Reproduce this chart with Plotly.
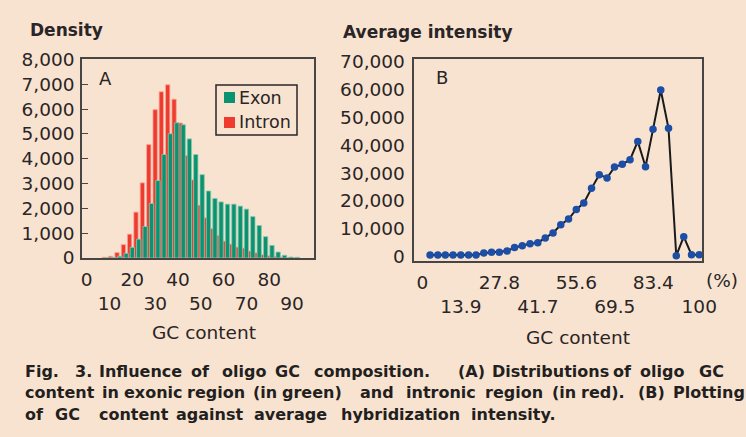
import plotly.graph_objects as go

# ---------------- data ----------------
# Panel A: GC-content bins (%) and oligo density counts
gc_bins = [8.3, 11.1, 13.9, 16.7, 19.4, 22.2, 25.0, 27.8, 30.6, 33.3, 36.1, 38.9, 41.7,
           44.4, 47.2, 50.0, 52.8, 55.6, 58.3, 61.1, 63.9, 66.7, 69.4, 72.2, 75.0, 77.8,
           80.6, 83.3, 86.1, 88.9, 91.7]
intron_density = [30, 70, 220, 540, 960, 1850, 3030, 4570, 5980, 6700, 6980, 6400, 5440,
                  4130, 3150, 2130, 1620, 1180, 910, 680, 560, 440, 400, 280, 210, 130,
                  90, 70, 40, 20, 10]
exon_density = [10, 20, 70, 190, 430, 760, 1270, 2200, 3120, 4170, 5010, 5450, 5370,
                4800, 4170, 3360, 2700, 2400, 2260, 2170, 2170, 2090, 1970, 1670, 1310,
                860, 510, 240, 110, 40, 30]

# Panel B: GC content (%) vs average hybridization intensity
gc_points = [2.8, 5.6, 8.3, 11.1, 13.9, 16.7, 19.4, 22.2, 25.0, 27.8, 30.6, 33.3, 36.1,
             38.9, 41.7, 44.4, 47.2, 50.0, 52.8, 55.6, 58.3, 61.1, 63.9, 66.7, 69.4, 72.2,
             75.0, 77.8, 80.6, 83.3, 86.1, 88.9, 91.7, 94.4, 97.2, 100.0]
avg_intensity = [650, 650, 650, 650, 650, 650, 650, 1330, 1570, 1570, 2050, 3300, 3950,
                 4670, 5030, 6700, 8550, 11450, 13520, 16990, 19270, 24530, 29440, 28240,
                 32190, 33150, 34820, 41400, 32310, 45710, 59830, 46070, 360, 7180, 720, 720]

a_ticks = [0, 10, 20, 30, 40, 50, 60, 70, 80, 90, 100]
b_ticks = [0, 13.9, 27.8, 41.7, 55.6, 69.5, 83.4, 100]
b_ticktext = ["0", "13.9", "27.8", "41.7", "55.6", "69.5", "83.4", "100"]
a_yticks = [0, 1000, 2000, 3000, 4000, 5000, 6000, 7000, 8000]
b_yticks = [0, 10000, 20000, 30000, 40000, 50000, 60000, 70000]

caption_line1 = ["Fig.", "3.", "Influence", "of", "oligo", "GC", "composition.", "(A)",
                 "Distributions", "of", "oligo", "GC"]
caption_line2 = ["content", "in", "exonic", "region", "(in", "green)", "and", "intronic",
                 "region", "(in", "red).", "(B)", "Plotting"]
caption_line3 = ["of", "GC", "content", "against", "average", "hybridization", "intensity."]

# ---------------- styling / layout ----------------
BG = "#F8E3D0"
RED = "#EE3B2E"
GREEN = "#0B9371"
BLUE = "#1D4EA6"
FRAME = "#4A4545"
TXT = "#2A2526"
CAPTXT = "#231F20"
FONT = "DejaVu Sans"
TICKSZ = 18.5
CAPSZ = 16
W, H = 746, 437

# word start positions (px) reproducing the justified caption
line1_x = [22.7, 72.7, 96.7, 189, 220, 272.7, 311.7, 455.7, 489.5, 611, 638, 697]
line2_x = [22.7, 100, 121.5, 185, 250.7, 280, 358.3, 403.7, 483, 549.7, 579, 635.7, 670.7]
line3_x = [22.7, 53.3, 96.7, 174, 251.7, 338.5, 468.5]
line_y = [371, 392.5, 414.5]


def two_rows(labels):
    return [t if i % 2 == 0 else "<br>" + t for i, t in enumerate(labels)]


fig = go.Figure()

fig.add_trace(go.Bar(x=gc_bins, y=intron_density, name="Intron", width=1.9, offset=-1.55,
                     marker=dict(color=RED, line=dict(color="#F7A89C", width=0.8)),
                     xaxis="x", yaxis="y", showlegend=False))
fig.add_trace(go.Bar(x=gc_bins, y=exon_density, name="Exon", width=1.9, offset=-0.35,
                     marker=dict(color=GREEN, line=dict(color="#8CC9B0", width=0.8)),
                     xaxis="x", yaxis="y", showlegend=False))
fig.add_trace(go.Scatter(x=gc_points, y=avg_intensity, mode="lines+markers",
                         line=dict(color="#1A1A1A", width=2),
                         marker=dict(color=BLUE, size=7.5),
                         xaxis="x2", yaxis="y2", showlegend=False,
                         name="Average intensity"))

axis_common = dict(showline=True, linecolor=FRAME, linewidth=1.5, mirror=True,
                   showgrid=False, zeroline=False, automargin=False, tickangle=0,
                   tickfont=dict(family=FONT, size=TICKSZ, color=TXT))

fig.update_layout(
    template="none",
    width=W, height=H, margin=dict(l=0, r=0, t=0, b=0, pad=0),
    paper_bgcolor=BG, plot_bgcolor=BG, barmode="overlay",
    font=dict(family=FONT, color=TXT),
    xaxis=dict(domain=[82 / W, 314 / W], range=[-2.05, 99.6], anchor="y",
               tickvals=a_ticks, ticktext=two_rows([str(v) for v in a_ticks]),
               ticks="", ticklabelstandoff=4, **axis_common),
    yaxis=dict(domain=[1 - 258 / H, 1 - 59 / H], range=[0, 8020], anchor="x",
               tickvals=a_yticks, tickformat=",", ticks="inside", ticklen=6,
               tickcolor=FRAME, ticklabelstandoff=2, **axis_common),
    xaxis2=dict(domain=[414.3 / W, 702.3 / W], range=[-2.9, 101.1], anchor="y2",
                tickvals=b_ticks, ticktext=two_rows(b_ticktext), ticks="",
                ticklabelstandoff=4, **axis_common),
    yaxis2=dict(domain=[1 - 261 / H, 1 - 59 / H], range=[-1540, 70970], anchor="x2",
                tickvals=b_yticks, tickformat=",", ticks="", ticklabelstandoff=4,
                **axis_common),
)

ann = []
def label(text, x, y, size=TICKSZ, bold=False, xanchor="center", family=FONT, color=TXT):
    ann.append(dict(text=("<b>%s</b>" % text) if bold else text, x=x / W, y=1 - y / H,
                    xref="paper", yref="paper", showarrow=False, xanchor=xanchor,
                    yanchor="middle", font=dict(family=family, size=size, color=color)))

label("Density", 28, 30, size=17, bold=True, xanchor="left")
label("Average intensity", 341, 32, size=17, bold=True, xanchor="left")
label("A", 105, 79, size=18)
label("B", 442, 77, size=18)
label("(%)", 722, 280, size=TICKSZ)
label("GC content", 204, 332, size=TICKSZ)
label("GC content", 578, 337, size=TICKSZ)

# legend for panel A
label("Exon", 237, 98, size=17.5, xanchor="left")
label("Intron", 237, 122, size=17.5, xanchor="left")

# caption: each word placed to reproduce the justified setting
for words, xs, y in ((caption_line1, line1_x, line_y[0]),
                     (caption_line2, line2_x, line_y[1]),
                     (caption_line3, line3_x, line_y[2])):
    for wd, x in zip(words, xs):
        label(wd, x, y, size=CAPSZ, bold=True, xanchor="left", color=CAPTXT)

fig.update_layout(annotations=ann)

shapes = [
    dict(type="rect", xref="paper", yref="paper", x0=216 / W, x1=297 / W,
         y0=1 - 135 / H, y1=1 - 85 / H, line=dict(color="#2A2526", width=1.5),
         fillcolor=BG),
    dict(type="rect", xref="paper", yref="paper", x0=224 / W, x1=235 / W,
         y0=1 - 103 / H, y1=1 - 92 / H, line=dict(width=0), fillcolor=GREEN),
    dict(type="rect", xref="paper", yref="paper", x0=224 / W, x1=235 / W,
         y0=1 - 128 / H, y1=1 - 117 / H, line=dict(width=0), fillcolor=RED),
]
fig.update_layout(shapes=shapes)

fig.write_html("out.html")
